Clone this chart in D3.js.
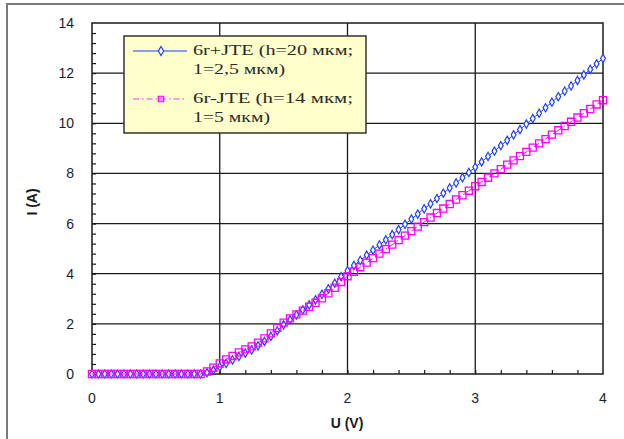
<!DOCTYPE html>
<html>
<head>
<meta charset="utf-8">
<script src="https://cdn.jsdelivr.net/npm/d3@7"></script>
<style>
  body { margin: 0; background: #fff; }
  svg { display: block; }
</style>
</head>
<body>
<div id="chart"></div>
<script>
// I-U curves for two structures
var voltages = [0,0.05,0.1,0.15,0.2,0.25,0.3,0.35,0.4,0.45,0.5,0.55,0.6,0.65,0.7,0.75,0.8,0.85,
  0.9,0.95,1,1.05,1.1,1.15,1.2,1.25,1.3,1.35,1.4,1.45,1.5,1.55,1.6,1.65,1.7,1.75,1.8,1.85,1.9,1.95,
  2,2.05,2.1,2.15,2.2,2.25,2.3,2.35,2.4,2.45,2.5,2.55,2.6,2.65,2.7,2.75,2.8,2.85,2.9,2.95,
  3,3.05,3.1,3.15,3.2,3.25,3.3,3.35,3.4,3.45,3.5,3.55,3.6,3.65,3.7,3.75,3.8,3.85,3.9,3.95,4];

var currentPlus = [0,0,0,0,0,0,0,0,0,0,0,0,0,0,0,0,0,0,
  0.05,0.15,0.28,0.42,0.56,0.70,0.83,0.96,1.12,1.30,1.50,1.72,1.96,2.16,2.36,2.56,2.76,2.96,3.18,3.40,3.62,3.88,
  4.12,4.33,4.53,4.74,4.94,5.15,5.35,5.56,5.76,5.97,6.18,6.38,6.59,6.79,7.00,7.21,7.42,7.62,7.83,8.04,
  8.25,8.46,8.68,8.89,9.11,9.32,9.54,9.75,9.97,10.19,10.40,10.62,10.84,11.06,11.28,11.49,11.71,11.93,12.15,12.37,12.59];

var currentMinus = [0,0,0,0,0,0,0,0,0,0,0,0,0,0,0,0,0,0,
  0.10,0.25,0.42,0.58,0.72,0.86,0.98,1.10,1.25,1.42,1.62,1.84,2.05,2.22,2.38,2.53,2.68,2.84,3.02,3.22,3.44,3.67,
  3.90,4.08,4.26,4.44,4.62,4.80,4.98,5.16,5.34,5.52,5.70,5.88,6.06,6.24,6.42,6.60,6.78,6.96,7.13,7.31,
  7.49,7.66,7.83,8.00,8.17,8.35,8.52,8.69,8.86,9.03,9.20,9.37,9.55,9.72,9.89,10.06,10.23,10.40,10.57,10.75,10.92];

var xTicks = [0, 1, 2, 3, 4];
var yTicks = [0, 2, 4, 6, 8, 10, 12, 14];
var legendLines = [
  ["6r+JTE (h=20 мкм;", "1=2,5 мкм)"],
  ["6r-JTE (h=14 мкм;", "1=5 мкм)"]
];
var legendWidths = [[160, 92], [160, 77]];

var width = 624, height = 439;
var margin = { top: 23, left: 92, right: 21, bottom: 65 };

var svg = d3.select("#chart").append("svg")
  .attr("width", width)
  .attr("height", height);

// outer grey frame (only left/top edges are in view)
svg.append("rect")
  .attr("x", 7).attr("y", 4)
  .attr("width", 640).attr("height", 460)
  .attr("fill", "none")
  .attr("stroke", "#7a7a7a")
  .attr("stroke-width", 2);

var xScale = d3.scaleLinear().domain([0, 4]).range([margin.left, width - margin.right]);
var yScale = d3.scaleLinear().domain([0, 14]).range([height - margin.bottom, margin.top]);

// grid
svg.append("g").selectAll("line.v")
  .data(xTicks.slice(1, -1))
  .enter().append("line")
  .attr("x1", function(d) { return xScale(d); })
  .attr("x2", function(d) { return xScale(d); })
  .attr("y1", yScale(0)).attr("y2", yScale(14))
  .attr("stroke", "#1a1a1a").attr("stroke-width", 1.3);

svg.append("g").selectAll("line.h")
  .data(yTicks.slice(1, -1))
  .enter().append("line")
  .attr("y1", function(d) { return yScale(d); })
  .attr("y2", function(d) { return yScale(d); })
  .attr("x1", xScale(0)).attr("x2", xScale(4))
  .attr("stroke", "#1a1a1a").attr("stroke-width", 1.3);

// minor ticks, pointing inside
var xAxis = d3.axisTop(xScale).tickValues(d3.range(0.2, 4, 0.2)).tickSize(4).tickFormat("");
svg.append("g")
  .attr("transform", "translate(0," + yScale(0) + ")")
  .call(xAxis)
  .call(function(g) { g.select(".domain").remove(); })
  .selectAll("line").attr("stroke", "#1a1a1a").attr("stroke-width", 1.2);

var yAxis = d3.axisRight(yScale).tickValues(d3.range(0.4, 14, 0.4)).tickSize(4).tickFormat("");
svg.append("g")
  .attr("transform", "translate(" + xScale(0) + ",0)")
  .call(yAxis)
  .call(function(g) { g.select(".domain").remove(); })
  .selectAll("line").attr("stroke", "#1a1a1a").attr("stroke-width", 1.2);

// plot frame
svg.append("rect")
  .attr("x", xScale(0)).attr("y", yScale(14))
  .attr("width", xScale(4) - xScale(0))
  .attr("height", yScale(0) - yScale(14))
  .attr("fill", "none")
  .attr("stroke", "#1a1a1a").attr("stroke-width", 1.5);

// tick labels
svg.append("g").selectAll("text")
  .data(xTicks)
  .enter().append("text")
  .attr("x", function(d) { return xScale(d); })
  .attr("y", yScale(0) + 29)
  .attr("text-anchor", "middle")
  .attr("font-family", "Liberation Sans, Arial, sans-serif")
  .attr("font-size", 14)
  .attr("fill", "#1c1c30")
  .text(function(d) { return d; });

svg.append("g").selectAll("text")
  .data(yTicks)
  .enter().append("text")
  .attr("x", 74)
  .attr("y", function(d) { return yScale(d) + 5; })
  .attr("text-anchor", "end")
  .attr("font-family", "Liberation Sans, Arial, sans-serif")
  .attr("font-size", 14)
  .attr("fill", "#1c1c30")
  .text(function(d) { return d; });

// axis titles
svg.append("text")
  .attr("x", 347).attr("y", 428)
  .attr("text-anchor", "middle")
  .attr("font-family", "Liberation Sans, Arial, sans-serif")
  .attr("font-size", 14).attr("font-weight", "bold")
  .attr("fill", "#1a1a1a")
  .text("U (V)");

svg.append("text")
  .attr("transform", "translate(37,202) rotate(-90)")
  .attr("text-anchor", "middle")
  .attr("font-family", "Liberation Sans, Arial, sans-serif")
  .attr("font-size", 14).attr("font-weight", "bold")
  .attr("fill", "#1a1a1a")
  .text("I (A)");

// series
var plus = voltages.map(function(v, i) { return { u: v, i: currentPlus[i] }; });
var minus = voltages.map(function(v, i) { return { u: v, i: currentMinus[i] }; });

var line = d3.line()
  .x(function(d) { return xScale(d.u); })
  .y(function(d) { return yScale(d.i); });

var diamond = d3.symbol().type(d3.symbolDiamond).size(20);
var square = d3.symbol().type(d3.symbolSquare).size(50);

svg.append("path")
  .datum(plus)
  .attr("d", line)
  .attr("fill", "none")
  .attr("stroke", "#1f3cff").attr("stroke-width", 1);

svg.append("g").selectAll("path")
  .data(plus)
  .enter().append("path")
  .attr("d", diamond)
  .attr("transform", function(d) { return "translate(" + xScale(d.u) + "," + yScale(d.i) + ")"; })
  .attr("fill", "#fff")
  .attr("stroke", "#2040ff").attr("stroke-width", 1.2);

svg.append("path")
  .datum(minus)
  .attr("d", line)
  .attr("fill", "none")
  .attr("stroke", "#ff00ff").attr("stroke-width", 1)
  .attr("stroke-dasharray", "6,3,1.5,3");

svg.append("g").selectAll("path")
  .data(minus)
  .enter().append("path")
  .attr("d", square)
  .attr("transform", function(d) { return "translate(" + xScale(d.u) + "," + yScale(d.i) + ")"; })
  .attr("fill", "none")
  .attr("stroke", "#ff00ff").attr("stroke-width", 1.3);

// legend
var legend = svg.append("g");
legend.append("rect")
  .attr("x", 124).attr("y", 36)
  .attr("width", 242).attr("height", 97)
  .attr("fill", "#ffffcc")
  .attr("stroke", "#333").attr("stroke-width", 1.5);

var legendY = [51, 99];

legend.append("line")
  .attr("x1", 133).attr("x2", 187).attr("y1", legendY[0]).attr("y2", legendY[0])
  .attr("stroke", "#1f3cff").attr("stroke-width", 1);
legend.append("path")
  .attr("d", d3.symbol().type(d3.symbolDiamond).size(24))
  .attr("transform", "translate(161," + legendY[0] + ")")
  .attr("fill", "#ffffcc").attr("stroke", "#2040ff").attr("stroke-width", 1.2);

legend.append("line")
  .attr("x1", 133).attr("x2", 187).attr("y1", legendY[1]).attr("y2", legendY[1])
  .attr("stroke", "#ff33ff").attr("stroke-width", 1.2)
  .attr("stroke-dasharray", "6,3,1.5,3");
legend.append("path")
  .attr("d", d3.symbol().type(d3.symbolSquare).size(30))
  .attr("transform", "translate(161," + legendY[1] + ")")
  .attr("fill", "#ff99ff").attr("stroke", "#ff00ff").attr("stroke-width", 1.2);

legendLines.forEach(function(lines, k) {
  lines.forEach(function(s, j) {
    legend.append("text")
      .attr("x", 193)
      .attr("y", legendY[k] + 4 + j * 19)
      .attr("font-family", "Liberation Serif, Times New Roman, serif")
      .attr("font-size", 15)
      .attr("fill", "#2a2a2a")
      .attr("textLength", legendWidths[k][j])
      .attr("lengthAdjust", "spacingAndGlyphs")
      .text(s);
  });
});
</script>
</body>
</html>
